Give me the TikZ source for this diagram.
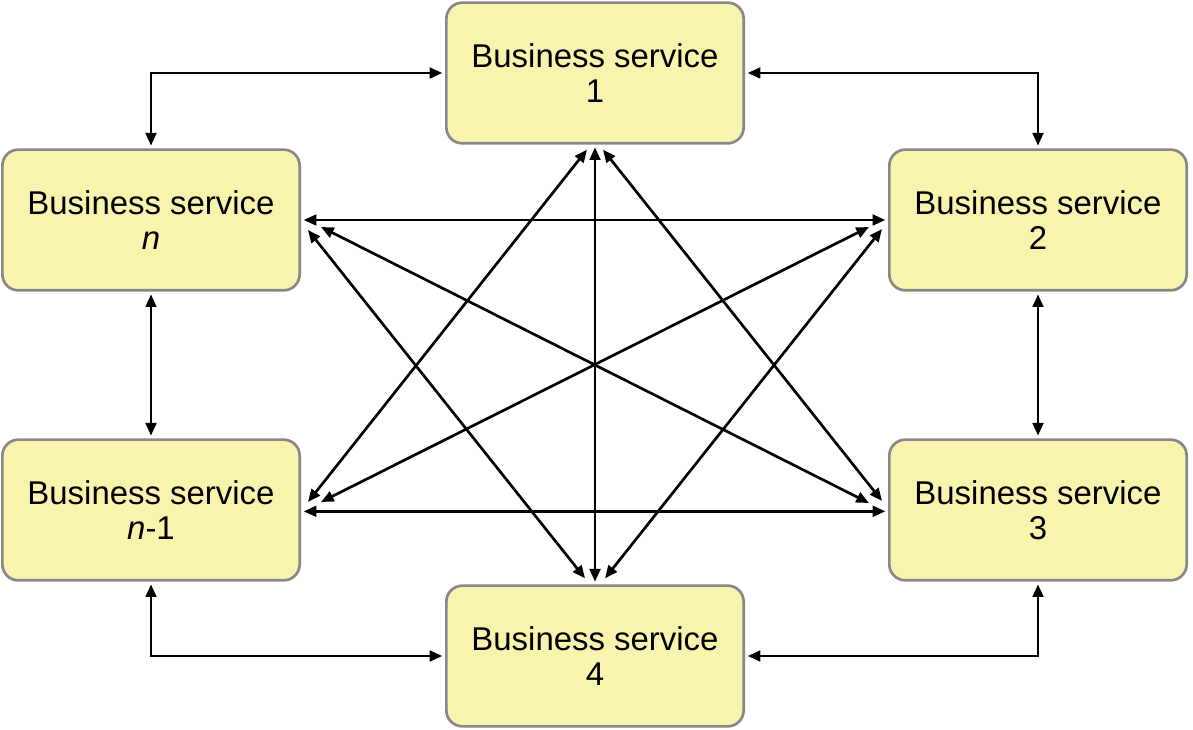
\documentclass[tikz,border=0pt]{standalone}
\usepackage{fontspec}
\setmainfont{Liberation Sans}
\usetikzlibrary{arrows.meta}
\definecolor{boxfill}{HTML}{F8F4AE}
\definecolor{boxline}{HTML}{888888}
\tikzset{
  svcbox/.style={draw=boxline, fill=boxfill, line width=2pt, rounded corners=12pt,
    minimum width=223pt, minimum height=105.5pt, align=center, inner sep=0pt,
    font=\fontsize{24.7}{26.5}\selectfont},
  conn/.style={line width=2pt, {Triangle[length=9.5pt,width=8pt]}-{Triangle[length=9.5pt,width=8pt]}},
  gap/.style={shorten <=2pt, shorten >=2pt}
}
\begin{document}
\begin{tikzpicture}[x=0.75pt,y=-0.75pt]
\useasboundingbox (0,0) rectangle (1193,730);
\node[svcbox] (b1)  at (595,73)   {Business service\\1};
\node[svcbox] (bn)  at (151,220)  {Business service\\\textit{n}};
\node[svcbox] (b2)  at (1038,220) {Business service\\2};
\node[svcbox] (bn1) at (151,510)  {Business service\\\textit{n}-1};
\node[svcbox] (b3)  at (1038,510) {Business service\\3};
\node[svcbox] (b4)  at (595,656)  {Business service\\4};
% outer elbows and verticals
\draw[conn,gap] (bn.north) |- (b1.west);
\draw[conn,gap] (b1.east) -| (b2.north);
\draw[conn,gap] (bn.south) -- (bn1.north);
\draw[conn,gap] (b2.south) -- (b3.north);
\draw[conn,gap] (bn1.south) |- (b4.west);
\draw[conn,gap] (b3.south) |- (b4.east);
% straight through
\draw[conn,gap] (b1.south) -- (b4.north);
\draw[conn,gap] (bn.east) -- (b2.west);
\draw[conn,gap] ([yshift=-1]bn1.east) -- ([yshift=-1]b3.west);
% diagonals
\draw[conn] ([shift={(20,7)}]bn.east) -- ([shift={(-19,-7)}]b3.west);
\draw[conn] ([shift={(-19,7)}]b2.west) -- ([shift={(20,-8)}]bn1.east);
\draw[conn] ([shift={(7,10)}]bn.east) -- ([shift={(-10,-6)}]b4.north);
\draw[conn] ([shift={(-6,9)}]b2.west) -- ([shift={(10,-6)}]b4.north);
\draw[conn] ([shift={(-8,5)}]b1.south) -- ([shift={(7,-8)}]bn1.east);
\draw[conn] ([shift={(8,5)}]b1.south) -- ([shift={(-6,-9)}]b3.west);
\end{tikzpicture}
\end{document}
